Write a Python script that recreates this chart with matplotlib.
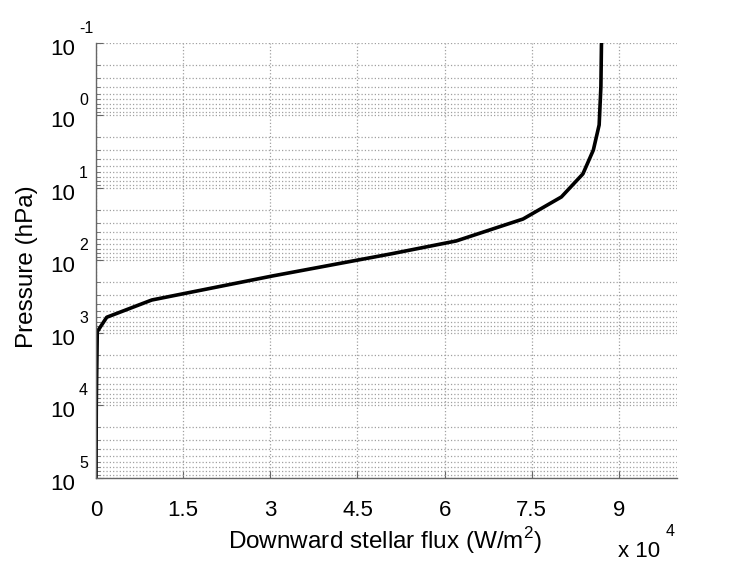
import matplotlib
matplotlib.use("Agg")
import matplotlib.pyplot as plt
from matplotlib.ticker import LogLocator, FuncFormatter, NullFormatter
from matplotlib.transforms import offset_copy

plt.rcParams['font.family'] = ['Liberation Sans', 'DejaVu Sans']
plt.rcParams['mathtext.fontset'] = 'custom'
plt.rcParams['mathtext.rm'] = 'Liberation Sans'

# downward stellar flux (W/m^2) vs pressure (hPa)
flux = [87000, 86900, 86600, 85600, 83800, 80100, 73500, 62000, 50800,
        30300, 9600, 1850, 220, 50, 5]
pressure = [0.1, 0.4, 1.35, 3.0, 6.4, 13.3, 26.8, 53.8, 81,
            164, 351, 607, 959, 1e4, 1e5]

xticks = [0, 15000, 30000, 45000, 60000, 75000, 90000]
ydecades = [-1, 0, 1, 2, 3, 4, 5]

fig = plt.figure(figsize=(7.47, 5.61), dpi=100)
ax = fig.add_axes([0.1285, 0.148, 0.7778, 0.7754])

ax.plot(flux, pressure, color='black', linewidth=2.6)

ax.set_yscale('log')
ax.set_ylim(1e5, 1e-1)
ax.set_xlim(0, 100000)
ax.set_xticks(xticks)
ax.xaxis.set_major_formatter(FuncFormatter(lambda v, pos: '%g' % (v / 1e4)))
ax.yaxis.set_major_locator(LogLocator(base=10, numticks=10))
ax.yaxis.set_minor_locator(LogLocator(base=10, subs=range(2, 10), numticks=20))
ax.yaxis.set_major_formatter(NullFormatter())
ax.yaxis.set_minor_formatter(NullFormatter())

ax.grid(True, which='major', axis='both', linestyle=':', color='#a0a0a0', linewidth=0.9)
ax.grid(True, which='minor', axis='y', linestyle=':', color='#a0a0a0', linewidth=0.9)

for s in ['top', 'right']:
    ax.spines[s].set_visible(False)
for s in ['left', 'bottom']:
    ax.spines[s].set_color('#666666')
    ax.spines[s].set_linewidth(1.0)

ax.tick_params(which='both', direction='in', colors='#666666', labelcolor='black')
ax.tick_params(which='major', length=5)
ax.tick_params(which='minor', length=3)
ax.tick_params(axis='x', pad=16, labelsize=16)

# MATLAB-style 10^n labels: base and raised exponent
base_tr = offset_copy(ax.get_yaxis_transform(), fig=fig, x=-21, y=-12, units='dots')
exp_tr = offset_copy(ax.get_yaxis_transform(), fig=fig, x=-17, y=10, units='dots')
for d in ydecades:
    ax.text(0, 10.0 ** d, '10', transform=base_tr, ha='right', va='baseline',
            fontsize=16, clip_on=False)
    ax.text(0, 10.0 ** d, str(d), transform=exp_tr, ha='left', va='baseline',
            fontsize=11.5, clip_on=False)

ax.set_xlabel('Downward stellar flux (W/m$^2$)', fontsize=17.5, va='baseline')
ax.xaxis.set_label_coords(0.4966, -0.1632)
ax.set_ylabel('Pressure (hPa)', fontsize=17.5, va='center', ha='center')
ax.yaxis.set_label_coords(-0.119, 0.485)

fig.text(618 / 747, 4 / 561, 'x 10', fontsize=16, ha='left', va='baseline')
fig.text(666 / 747, 25 / 561, '4', fontsize=11.5, ha='left', va='baseline')

fig.savefig('out.png', dpi=100)
